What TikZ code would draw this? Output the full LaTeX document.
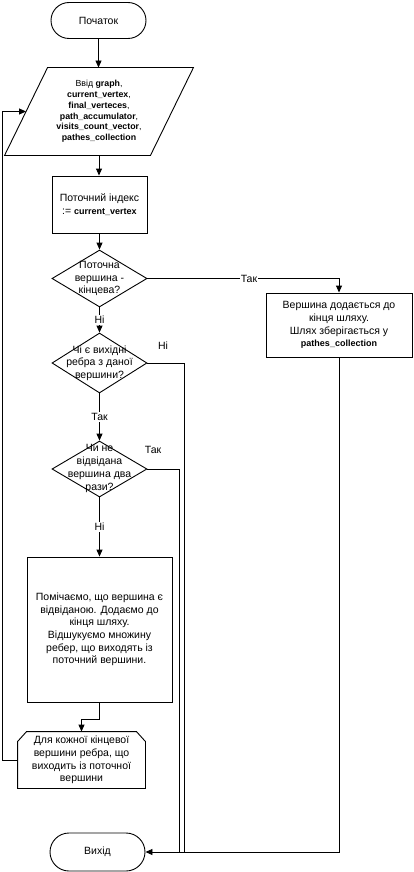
\documentclass[tikz,border=0pt]{standalone}
\usepackage{fontspec}
\setmainfont{Liberation Sans}
\usetikzlibrary{arrows.meta,shapes.geometric}
\newcommand\myid[1]{{\fontsize{9}{10}\selectfont\bfseries #1}}
\begin{document}
\begin{tikzpicture}[x=1pt,y=-1pt,line width=0.9pt,
  every node/.style={font=\fontsize{10.5}{12.7}\selectfont,align=center},
  term/.style={draw,rectangle,rounded corners=18pt,minimum width=95pt,minimum height=36pt,inner sep=0pt},
  procbox/.style={draw,rectangle,inner sep=0pt},
  dia/.style={draw,diamond,inner sep=0pt},
  lbl/.style={fill=white,inner sep=1pt},
  arr/.style={-{Triangle[length=7pt,width=6pt]}}]
\useasboundingbox (0,0) rectangle (413,872);

% start
\node[term] (start) at (98.5,20.5) {Початок};

% input parallelogram
\node[inner sep=0pt,minimum width=145pt,minimum height=87pt,font=\fontsize{8.8}{10.8}\selectfont] (inp) at (99,111.5)
  {Ввід \textbf{graph},\\ \textbf{current\_vertex},\\ \textbf{final\_verteces},\\ \textbf{path\_accumulator},\\ \textbf{visits\_count\_vector},\\ \textbf{pathes\_collection}};
\draw ([xshift=21.5pt]inp.north west) -- ([xshift=21.5pt]inp.north east)
   -- ([xshift=-21.5pt]inp.south east) -- ([xshift=-21.5pt]inp.south west) -- cycle;

% index box
\node[procbox,minimum width=95pt,minimum height=57pt] (idx) at (99.5,204.5)
  {Поточний індекс\\:= \myid{current\_vertex}};

% decision 1
\node[dia,minimum width=95pt,minimum height=57pt] (d1) at (99.5,278.5) {};
\node at (d1) {Поточна\\вершина -\\кінцева?};

% found box
\node[procbox,minimum width=146pt,minimum height=64pt] (found) at (339,325)
  {Вершина додається до\\кінця шляху.\\Шлях зберігається у\\\myid{pathes\_collection}};

% decision 2
\node[dia,minimum width=95pt,minimum height=60pt] (d2) at (99.5,363) {};
\node at (d2) {Чі є вихідні\\ребра з даної\\вершини?};

% decision 3
\node[dia,minimum width=95pt,minimum height=56pt] (d3) at (99.5,469) {};
\node at ([yshift=0.5pt]d3) {Чи не\\відвідана\\вершина два\\рази?};

% big process box
\node[procbox,minimum width=145pt,minimum height=145pt] (mark) at (99.5,629.5)
  {Помічаємо, що вершина є\\відвіданою. Додаємо до\\кінця шляху.\\Відшукуємо множину\\ребер, що виходять із\\поточний вершини.};

% loop limit
\node[inner sep=0pt,minimum width=127pt,minimum height=56pt] (loop) at (81.5,760)
  {Для кожної кінцевої\\вершини ребра, що\\виходить із поточної\\вершини};
\draw ([yshift=-10pt]loop.north west) -- ([xshift=9pt]loop.north west)
   -- ([xshift=-9pt]loop.north east) -- ([yshift=-10pt]loop.north east)
   -- (loop.south east) -- (loop.south west) -- cycle;

% exit
\node[term,minimum height=38pt,rounded corners=19pt] (exit) at (97.5,852) {Вихід};

% connectors
\draw[arr] (start.south) -- (start.south |- inp.north);
\draw[arr] (inp.south) -- (inp.south |- idx.north);
\draw[arr] (idx.south) -- (d1.north);
\draw[arr] (d1.east) -- node[lbl,pos=0.53] {Так} (d1.east -| found.north) -- (found.north);
\draw[arr] (d1.south) -- node[lbl,pos=0.5] {Ні} (d2.north);
\draw[arr] (d2.south) -- node[lbl,pos=0.5] {Так} (d3.north);
\draw[arr] (d3.south) -- node[lbl,pos=0.5] {Ні} (mark.north);
\node at (163,346) {Ні};
\node at (153,450) {Так};
\coordinate (j2) at (184,852);
\coordinate (j3) at (179,852);
\draw (d2.east) -| (j2);
\draw (d3.east) -| (j3);
\draw[arr] (found.south) |- (exit.east);
\draw[arr] (mark.south) -- ++(0,17) -| (loop.north);
\draw[arr] (loop.west) -- ++(-15,0) |- (inp.west);
\end{tikzpicture}
\end{document}
